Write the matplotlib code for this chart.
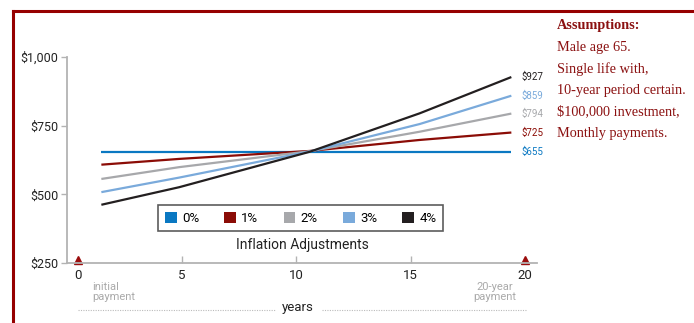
import matplotlib
matplotlib.use("Agg")
import matplotlib.pyplot as plt
from matplotlib.patches import Patch
from matplotlib.lines import Line2D

# data
years = [1.5, 4.9, 10.6, 15.4, 19.4]
labels = ["0%", "1%", "2%", "3%", "4%"]
pay_0 = [655, 655, 655, 655, 655]
pay_1 = [608, 629, 658, 698, 725]
pay_2 = [556, 599, 657, 728, 794]
pay_3 = [508, 561, 656, 756, 859]
pay_4 = [462, 526, 655, 795, 927]
end_labels = ["$655", "$725", "$794", "$859", "$927"]
colors = ["#0a78c2", "#8b0c06", "#a7a8ab", "#7aaadb", "#231f20"]
yticks = [250, 500, 750, 1000]
ytick_labels = ["$250", "$500", "$750", "$1,000"]
xticks = [0.5, 5, 10, 15, 20]
xtick_labels = ["0", "5", "10", "15", "20"]
notes = ["Male age 65.", "Single life with,", "10-year period certain.",
         "$100,000 investment,", "Monthly payments."]

narrow = ["Roboto", "DejaVu Sans"]
serif = ["Liberation Serif", "DejaVu Serif"]
dark_red = "#8b1111"
axis_gray = "#b3b3b3"

fig = plt.figure(figsize=(6.94, 3.23), dpi=100)
ax = fig.add_axes([67 / 694, 1 - 263 / 323, 470 / 694, 206 / 323])

series = [pay_0, pay_1, pay_2, pay_3, pay_4]
for vals, c, lab in zip(series, colors, end_labels):
    ax.plot(years, vals, color=c, lw=1.6, solid_capstyle="butt")
    ax.text(19.85, vals[-1], lab, color=c, fontsize=7, family=narrow,
            va="center", ha="left")

ax.set_xlim(0, 20.52)
ax.set_ylim(250, 1000)
for s in ["top", "right"]:
    ax.spines[s].set_visible(False)
for s in ["left", "bottom"]:
    ax.spines[s].set_color(axis_gray)
    ax.spines[s].set_linewidth(1.3)

ax.set_yticks(yticks)
ax.set_yticklabels(ytick_labels, family=narrow, fontsize=9, color="#222222")
ax.tick_params(axis="y", direction="out", length=4, width=1, color=axis_gray, pad=2)
ax.set_xticks(xticks)
ax.set_xticklabels(xtick_labels, family=narrow, fontsize=9.5, color="#222222")
ax.tick_params(axis="x", direction="in", length=5, width=1, color=axis_gray, pad=4)
ticks = ax.xaxis.get_major_ticks()
ticks[0].tick1line.set_visible(False)
ticks[-1].tick1line.set_visible(False)

# red markers for initial and 20-year payment
ax.plot([0.5, 20], [262, 262], ls="none", marker="^", ms=5.5, color="#9b0d0d",
        clip_on=False)

handles = [Patch(facecolor=c, edgecolor="none") for c in colors]
leg = ax.legend(handles, labels, ncol=5, loc="center", bbox_to_anchor=(0.497, 0.218),
                frameon=True, fancybox=False, handlelength=0.9, handleheight=0.9,
                handletextpad=0.4, columnspacing=1.9, borderpad=0.5,
                prop={"family": narrow, "size": 9.5})
leg.get_frame().set_edgecolor("#333333")
leg.get_frame().set_linewidth(1.2)
ax.text(0.500, 0.085, "Inflation Adjustments", transform=ax.transAxes, ha="center",
        va="center", family=narrow, fontsize=10, color="#222222")

# annotations under the axis
fig.text(92 / 694, 1 - 292 / 323, "initial\npayment", family=narrow, fontsize=8,
         color="#aaaaaa", ha="left", va="center", linespacing=0.9)
fig.text(516 / 694, 1 - 292 / 323, "20-year\npayment", family=narrow, fontsize=8,
         color="#aaaaaa", ha="right", va="center", linespacing=0.9, multialignment="center")
fig.text(298 / 694, 1 - 308 / 323, "years", family=narrow, fontsize=9.5,
         color="#222222", ha="center", va="center")
fig.add_artist(Line2D([78 / 694, 276 / 694], [1 - 310 / 323] * 2, transform=fig.transFigure,
                      color="#bbbbbb", lw=0.8, ls=(0, (1, 1.2))))
fig.add_artist(Line2D([322 / 694, 527 / 694], [1 - 310 / 323] * 2, transform=fig.transFigure,
                      color="#bbbbbb", lw=0.8, ls=(0, (1, 1.2))))

# dark red frame
fig.add_artist(Line2D([13 / 694, 1.0], [1 - 11 / 323] * 2, transform=fig.transFigure,
                      color="#960000", lw=2.2))
fig.add_artist(Line2D([13 / 694] * 2, [0, 1 - 11 / 323], transform=fig.transFigure,
                      color="#960000", lw=2.2))

# assumptions box
fig.text(557 / 694, 1 - 26 / 323, "Assumptions:", family=serif, fontsize=10.3,
         weight="bold", color=dark_red, ha="left", va="center")
for i, line in enumerate(notes):
    fig.text(557 / 694, 1 - (48 + i * 21.3) / 323, line, family=serif, fontsize=10.3,
             color=dark_red, ha="left", va="center")

fig.savefig("out.png", dpi=100)
